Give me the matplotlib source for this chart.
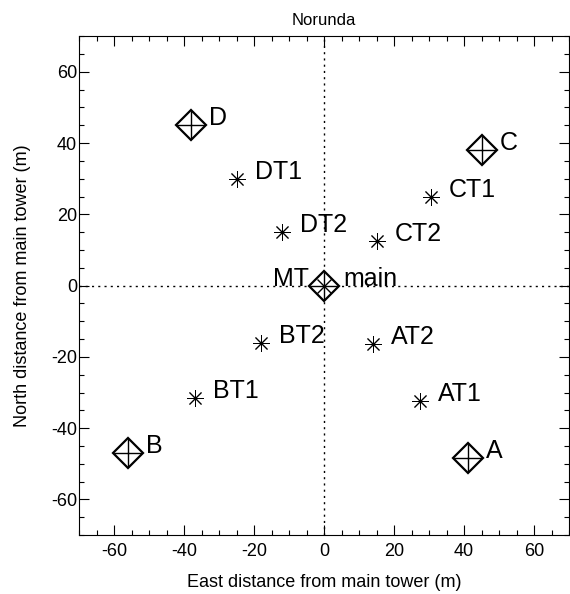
import matplotlib
matplotlib.use("Agg")
import matplotlib.pyplot as plt
from matplotlib.ticker import MultipleLocator

plt.rcParams['font.family'] = ['Liberation Sans', 'DejaVu Sans']
plt.rcParams['axes.unicode_minus'] = False

# corner masts (diamonds)
mast_names = ["A", "B", "C", "D"]
mast_x = [41, -56, 45, -38]
mast_y = [-48.5, -47, 38, 45]

# small towers (asterisks)
tower_names = ["AT1", "AT2", "BT1", "BT2", "CT1", "CT2", "DT1", "DT2"]
tower_x = [27.5, 14, -37, -18, 30.5, 15, -25, -12]
tower_y = [-32.5, -16.5, -31.5, -16, 25, 12.5, 30, 15]

# main tower
main_x = [0]
main_y = [0]

fig = plt.figure(figsize=(5.7, 5.94), dpi=100)
ax = fig.add_axes([0.1386, 0.0993, 0.86, 0.8397])

ax.axvline(0, color="black", lw=1, ls=(0, (1.5, 3)), zorder=1)
ax.axhline(0, color="black", lw=1, ls=(0, (1.5, 3)), zorder=1)

# diamonds with a cross inside
ax.plot(mast_x + main_x, mast_y + main_y, ls="none", marker="D", ms=14.8,
        mfc="white", mec="black", mew=1.6, zorder=3)
ax.plot(mast_x + main_x, mast_y + main_y, ls="none", marker="+", ms=20.5,
        mec="black", mew=1.0, zorder=4)
ax.plot(main_x, main_y, ls="none", marker="x", ms=10.5, mec="black", mew=1.0, zorder=4)

# asterisks
ax.plot(tower_x, tower_y, ls="none", marker=(8, 2, 0), ms=12,
        mec="black", mew=0.7, zorder=3)

for name, x, y in zip(mast_names, mast_x, mast_y):
    ax.annotate(name, (x, y), xytext=(13, 5), textcoords="offset points",
                ha="left", va="center", fontsize=18)
for name, x, y in zip(tower_names, tower_x, tower_y):
    ax.annotate(name, (x, y), xytext=(13, 5), textcoords="offset points",
                ha="left", va="center", fontsize=18)
ax.annotate("MT", (0, 0), xytext=(-11, 5), textcoords="offset points",
            ha="right", va="center", fontsize=18)
ax.annotate("main", (0, 0), xytext=(14, 5), textcoords="offset points",
            ha="left", va="center", fontsize=18)

ax.set_xlim(-70, 70)
ax.set_ylim(-70, 70)
ax.xaxis.set_major_locator(MultipleLocator(20))
ax.yaxis.set_major_locator(MultipleLocator(20))
ax.xaxis.set_minor_locator(MultipleLocator(5))
ax.yaxis.set_minor_locator(MultipleLocator(5))
ax.tick_params(which="both", direction="in", top=True, right=True, width=0.8, labelsize=13)
ax.tick_params(which="major", length=7)
ax.tick_params(which="minor", length=3.5)
ax.tick_params(axis="x", pad=6)
ax.tick_params(axis="y", pad=1.5)
for s in ax.spines.values():
    s.set_linewidth(0.8)

ax.set_title("Norunda", fontsize=12, pad=8)
ax.set_xlabel("East distance from main tower (m)", fontsize=13, labelpad=10)
ax.set_ylabel("North distance from main tower (m)", fontsize=13, labelpad=14)

fig.savefig("out.png", dpi=100)
